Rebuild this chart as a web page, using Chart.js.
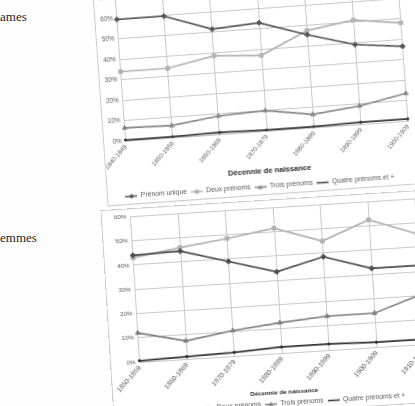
<!DOCTYPE html>
<html>
<head>
<meta charset="utf-8">
<script src="https://cdn.jsdelivr.net/npm/chart.js@4.4.1/dist/chart.umd.min.js"></script>
<style>
  html, body { margin: 0; padding: 0; background: #fff; width: 415px; height: 406px; overflow: hidden; }
  .page { position: relative; width: 415px; height: 406px; overflow: hidden; background: #fdfdfd; }
  .txt { position: absolute; left: 0; font-family: "Liberation Serif", "DejaVu Serif", serif; font-size: 13px; color: #1e1e1e; }
  .box { position: absolute; border: 1px solid #cdcdcd; background: #fff; }
  .box canvas { position: absolute; left: 0; top: 0; }
</style>
</head>
<body>
<div class="page">
  <div class="txt" style="top:9px">ames</div>
  <div class="txt" style="top:230px">emmes</div>

  <div class="box" id="box-top" style="left:103px; top:-21px; width:360px; height:224px; transform-origin:22.5px 160.5px; transform:rotate(-4.1deg)">
    <canvas id="chart-top" width="310" height="224"></canvas>
  </div>
  <div class="box" id="box-bottom" style="left:110px; top:208px; width:360px; height:211px; transform-origin:29.5px 152.6px; transform:rotate(-3.6deg)">
    <canvas id="chart-bottom" width="325" height="211"></canvas>
  </div>
</div>

<script>
// names of the four series (same in both charts)
const seriesNames = ["Prénom unique", "Deux prénoms", "Trois prénoms", "Quatre prénoms et +"];

// upper chart
const decadesTop = ["1840-1849", "1850-1859", "1860-1869", "1870-1879", "1880-1889", "1890-1899", "1900-1909"];
const prenomUniqueTop = [59.5, 59.5, 51.5, 53, 45.5, 39, 36.5];
const deuxPrenomsTop = [34, 34, 38.5, 37, 47.5, 51, 48];
const troisPrenomsTop = [6.5, 6, 9, 10, 6.5, 9, 13.5];
const quatrePrenomsTop = [0.5, 0.5, 1, 0.5, 0.5, 1, 1];
const yMaxTop = 70;

// lower chart
const decadesBottom = ["1850-1859", "1860-1869", "1870-1879", "1880-1889", "1890-1899", "1900-1909", "1910-1919"];
const prenomUniqueBottom = [44, 44.5, 39, 33.5, 38.5, 32.5, 32.5];
const deuxPrenomsBottom = [43, 46, 48.5, 51.5, 45, 52.5, 45.5];
const troisPrenomsBottom = [12, 7.5, 10.5, 12.5, 14, 14, 20.5];
const quatrePrenomsBottom = [0.5, 1, 1.5, 2.5, 2.5, 2, 2];
const yMaxBottom = 60;

const markers = ["rectRot", "rect", "triangle", "circle"];
const markerSizes = [2.6, 2.6, 2.6, 1.2];
const gridColor = "#c9c9c9";
const tickColor = "#595959";

Chart.defaults.font.family = "'Liberation Sans', Arial, sans-serif";

// little line + marker picture used in the legend, like the office chart
function legendIcon(color, marker) {
  const c = document.createElement("canvas");
  c.width = 12;
  c.height = 7;
  const g = c.getContext("2d");
  g.strokeStyle = color;
  g.fillStyle = color;
  g.lineWidth = 1.5;
  g.beginPath();
  g.moveTo(0, 3.5);
  g.lineTo(12, 3.5);
  g.stroke();
  g.beginPath();
  if (marker === "rectRot") {
    g.moveTo(6, 1); g.lineTo(8.5, 3.5); g.lineTo(6, 6); g.lineTo(3.5, 3.5);
  } else if (marker === "rect") {
    g.rect(4, 1.5, 4, 4);
  } else if (marker === "triangle") {
    g.moveTo(6, 1); g.lineTo(8.5, 5.5); g.lineTo(3.5, 5.5);
  }
  g.closePath();
  g.fill();
  return c;
}

function buildChart(canvasId, labels, series, opt) {
  const icons = series.map((s, i) => legendIcon(opt.colors[i], markers[i]));
  const datasets = series.map((values, i) => ({
    label: seriesNames[i],
    data: values,
    borderColor: opt.colors[i],
    backgroundColor: opt.colors[i],
    borderWidth: 1.7,
    pointStyle: markers[i],
    pointRadius: markerSizes[i],
    pointBorderWidth: 1,
    tension: 0
  }));

  return new Chart(document.getElementById(canvasId), {
    type: "line",
    data: { labels: labels, datasets: datasets },
    options: {
      responsive: false,
      animation: false,
      // negative bottom padding: the legend keeps 10px of empty room under its row
      layout: { padding: opt.padding },
      plugins: {
        tooltip: { enabled: false },
        legend: {
          position: "bottom",
          labels: {
            usePointStyle: true,
            pointStyleWidth: 12,
            padding: 4,
            color: tickColor,
            font: { size: opt.legendFont },
            generateLabels(chart) {
              const items = Chart.defaults.plugins.legend.labels.generateLabels(chart);
              items.forEach((item, i) => { item.pointStyle = icons[i]; });
              return items;
            }
          }
        }
      },
      scales: {
        x: {
          grid: { color: gridColor, drawTicks: false },
          border: { color: gridColor },
          ticks: {
            autoSkip: false, minRotation: 45, maxRotation: 45, padding: 2,
            color: tickColor, font: { size: opt.xFont }
          },
          title: {
            display: true,
            text: "Décennie de naissance",
            color: "#262626",
            font: { size: opt.titleFont, weight: "bold" },
            padding: { top: 0, bottom: opt.titlePad }
          },
          afterFit(scale) {
            scale.height = opt.xHeight;
            scale.paddingLeft = 0;
            scale.paddingRight = 0;
          }
        },
        y: {
          min: 0,
          max: opt.yMax,
          grid: { color: gridColor, drawTicks: false },
          border: { color: gridColor },
          ticks: {
            stepSize: 10, padding: 4, color: tickColor, font: { size: opt.yFont },
            callback: (v) => v + "%"
          },
          afterFit(scale) {
            scale.width = opt.yWidth;
            scale.paddingTop = 0;
            scale.paddingBottom = 0;
          }
        }
      }
    }
  });
}

buildChart("chart-top", decadesTop,
  [prenomUniqueTop, deuxPrenomsTop, troisPrenomsTop, quatrePrenomsTop], {
    colors: ["#565656", "#b3b3b3", "#878787", "#3a3a3a"],
    yMax: yMaxTop,
    padding: { top: 17.75, right: 5.5, bottom: -6, left: 0 },
    yWidth: 21.5, xHeight: 48, titlePad: 4,
    xFont: 6.3, yFont: 6.3, titleFont: 7.6, legendFont: 6.8
  });

buildChart("chart-bottom", decadesBottom,
  [prenomUniqueBottom, deuxPrenomsBottom, troisPrenomsBottom, quatrePrenomsBottom], {
    colors: ["#4b4b4b", "#b0b0b0", "#7e7e7e", "#323232"],
    yMax: yMaxBottom,
    padding: { top: 7.3, right: 11.5, bottom: -5.8, left: 0 },
    yWidth: 28.5, xHeight: 43, titlePad: 0.3,
    xFont: 6.8, yFont: 6.2, titleFont: 6.2, legendFont: 6.8
  });
</script>
</body>
</html>
